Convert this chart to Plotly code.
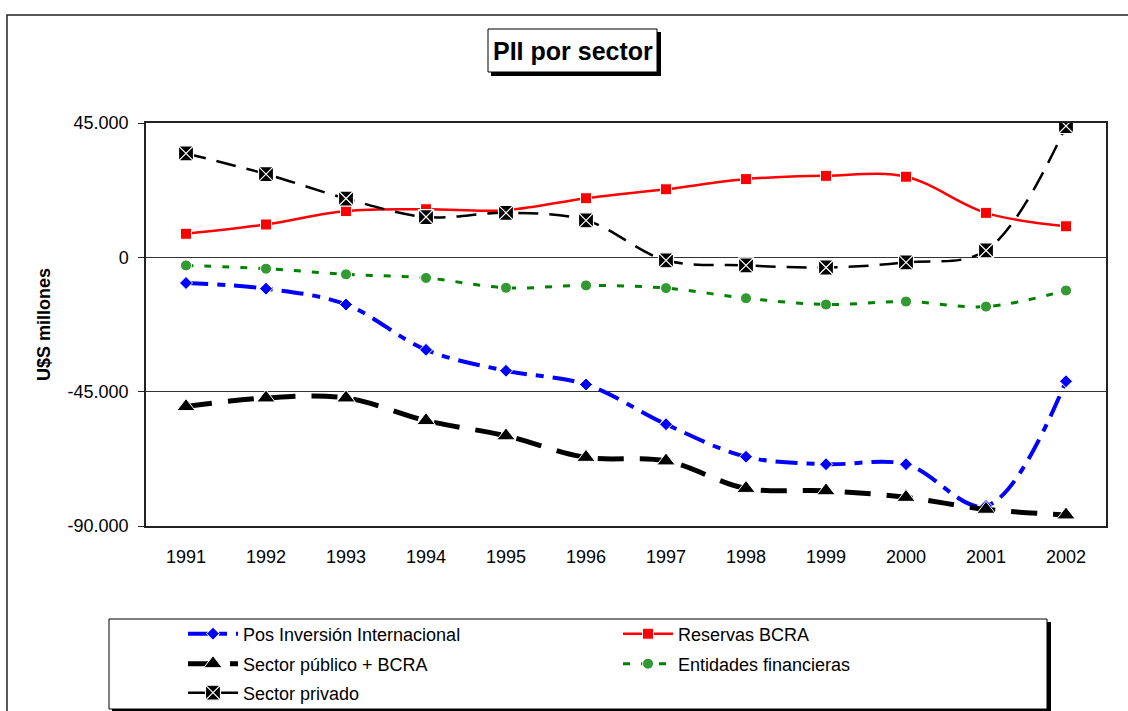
import plotly.graph_objects as go

# ---------------- data ----------------
years = ["1991", "1992", "1993", "1994", "1995", "1996",
         "1997", "1998", "1999", "2000", "2001", "2002"]
pos_inversion = [-8600, -10500, -15800, -31000, -38000, -42600,
                 -55900, -66800, -69300, -69300, -83300, -41500]
reservas_bcra = [7900, 11000, 15500, 16100, 15800, 19800,
                 22800, 26200, 27300, 27000, 14900, 10400]
sector_publico = [-50000, -47100, -47100, -54700, -59800, -67000,
                  -68200, -77400, -78200, -80400, -84400, -86300]
entidades_fin = [-2700, -3800, -5700, -6900, -10200, -9400,
                 -10300, -13700, -15800, -14800, -16500, -11100]
sector_privado = [34800, 27900, 19700, 13500, 14900, 12400,
                  -1000, -2700, -3400, -1700, 2300, 44000]
ytick_vals = [-90000, -45000, 0, 45000]
ytick_text = ["-90.000", "-45.000", "0", "45.000"]

FONT = "Liberation Sans, Arial, sans-serif"

# layout geometry helpers (pixels -> paper coords)
W, H = 1128, 711
L, R, T, B = 146, 22, 123, 185
PW, PH = W - L - R, H - T - B


def xp(px):
    return (px - L) / PW


def yp(py):
    return (H - B - py) / PH


fig = go.Figure()

fig.add_trace(go.Scatter(
    x=years, y=pos_inversion, name="Pos Inversión Internacional",
    mode="lines+markers", line=dict(color="#0000FF", width=4, dash="22px,9px,8px,9px",
                                    shape="spline", smoothing=1),
    marker=dict(symbol="diamond", size=10, color="#0000FF", line=dict(color="white", width=1)),
    legend="legend"))
fig.add_trace(go.Scatter(
    x=years, y=reservas_bcra, name="Reservas BCRA",
    mode="lines+markers", line=dict(color="#FF0000", width=2.5, shape="spline", smoothing=1),
    marker=dict(symbol="square", size=11, color="#FF0000", line=dict(color="white", width=1)),
    legend="legend2"))
fig.add_trace(go.Scatter(
    x=years, y=sector_publico, name="Sector público + BCRA",
    mode="lines+markers", line=dict(color="black", width=5, dash="26px,16px",
                                    shape="spline", smoothing=1),
    marker=dict(symbol="triangle-up", size=16, color="black", line=dict(color="white", width=1)),
    legend="legend3"))
fig.add_trace(go.Scatter(
    x=years, y=entidades_fin, name="Entidades financieras",
    mode="lines+markers", line=dict(color="#008000", width=3, dash="7px,11px",
                                    shape="spline", smoothing=1),
    marker=dict(symbol="circle", size=11, color="#339933", line=dict(color="white", width=1)),
    legend="legend4"))
fig.add_trace(go.Scatter(
    x=years, y=sector_privado, name="Sector privado",
    mode="lines+markers", line=dict(color="black", width=2.5, dash="20px,11px",
                                    shape="spline", smoothing=1),
    marker=dict(symbol="square-x", size=15, color="black", line=dict(color="white", width=1.2)),
    legend="legend5"))

shapes = [
    # outer chart border
    dict(type="rect", xref="paper", yref="paper", x0=xp(7), x1=xp(1140), y0=yp(15), y1=yp(725),
         line=dict(color="#222", width=1.5), fillcolor="rgba(0,0,0,0)", layer="below"),
    # title box shadow + box
    dict(type="rect", xref="paper", yref="paper", x0=xp(491), x1=xp(661), y0=yp(32), y1=yp(76),
         line=dict(width=0), fillcolor="black", layer="above"),
    dict(type="rect", xref="paper", yref="paper", x0=xp(488), x1=xp(657), y0=yp(29), y1=yp(72),
         line=dict(color="black", width=1), fillcolor="white", layer="above"),
    # legend box shadow + box
    dict(type="rect", xref="paper", yref="paper", x0=xp(112), x1=xp(1051), y0=yp(622), y1=yp(713),
         line=dict(width=0), fillcolor="black", layer="above"),
    dict(type="rect", xref="paper", yref="paper", x0=xp(109), x1=xp(1047), y0=yp(619), y1=yp(709),
         line=dict(color="black", width=1), fillcolor="white", layer="above"),
]

annotations = [
    dict(text="<b>PII por sector</b>", xref="paper", yref="paper", x=xp(572.5), y=yp(50.5),
         xanchor="center", yanchor="middle", showarrow=False,
         font=dict(family=FONT, size=25, color="black")),
]


def leg(px, py):
    return dict(x=xp(px), y=yp(py), xanchor="left", yanchor="middle",
                bgcolor="rgba(0,0,0,0)", borderwidth=0, itemwidth=50,
                font=dict(family=FONT, size=18, color="black"))


fig.update_layout(
    width=W, height=H, autosize=False,
    margin=dict(l=L, r=R, t=T, b=B, pad=0, autoexpand=False),
    paper_bgcolor="white", plot_bgcolor="white",
    font=dict(family=FONT, size=18, color="black"),
    showlegend=True,
    legend=leg(183, 634),
    legend2=leg(618, 634),
    legend3=leg(183, 664),
    legend4=leg(618, 664),
    legend5=leg(183, 693),
    shapes=shapes,
    annotations=annotations,
    xaxis=dict(type="category", range=[-0.5, 11.5], showgrid=False, zeroline=False,
               showline=True, mirror=True, linecolor="#222", linewidth=1.5,
               ticks="", ticklabelstandoff=14,
               tickfont=dict(family=FONT, size=18, color="black")),
    yaxis=dict(range=[-90000, 45000], tickvals=ytick_vals, ticktext=ytick_text,
               showgrid=True, gridcolor="#333", gridwidth=1, zeroline=False,
               showline=True, mirror=True, linecolor="#222", linewidth=1.5,
               ticks="outside", ticklen=6, tickcolor="#222", ticklabelstandoff=6,
               tickfont=dict(family=FONT, size=18, color="black"),
               title=dict(text="<b>U$S millones</b>", standoff=12,
                          font=dict(family=FONT, size=18, color="black"))),
)

fig.write_html("out.html", config={"displayModeBar": False},
               post_script="document.body.style.margin='0';")
